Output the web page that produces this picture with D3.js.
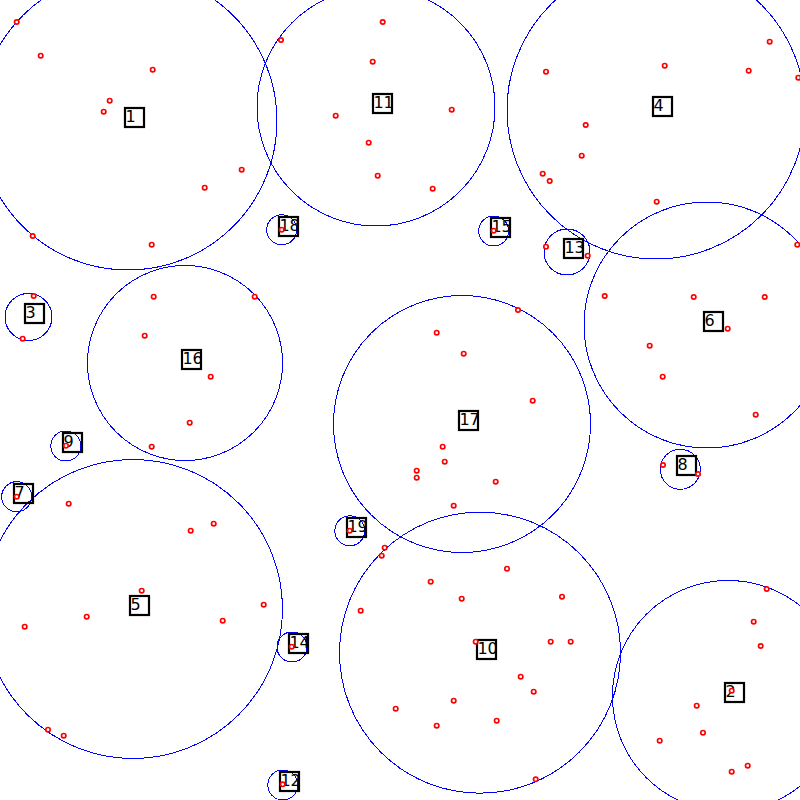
<!DOCTYPE html>
<html>
<head>
<meta charset="utf-8">
<script src="https://cdn.jsdelivr.net/npm/d3@7"></script>
<style>
  html, body { margin: 0; padding: 0; background: #fff; }
  svg { display: block; }
</style>
</head>
<body>
<script>
// Cluster ids, centres and radii (data units)
const clusterIds = [1, 2, 3, 4, 5, 6, 7, 8, 9, 10, 11, 12, 13, 14, 15, 16, 17, 18, 19];
const clusterX = [128, 728, 28.5, 656, 133, 707, 16.7, 680.3, 65.8, 480, 376, 282.8, 567, 292, 493.7, 185, 462, 281.7, 349.8];
const clusterY = [121, 696, 317, 110, 609, 325, 496.7, 469.3, 446, 652.7, 107, 785, 252, 647, 231, 363, 424, 229.8, 530.8];
const clusterR = [149, 115.5, 23.5, 149, 149.5, 123, 15, 20, 15, 140.5, 119, 15, 23, 15, 15, 97.5, 128.5, 15, 15];

// Data points
const pointX = [
  16.7, 40.7, 152.7, 109.7, 103.7, 241.7, 204.7, 32.7, 151.7,
  382.7, 281, 372.7, 335.7, 451.7, 368.7, 377.7, 432.7,
  546, 664.7, 769.7, 748.7, 798.3, 585.7, 581.7, 542.7, 549.7, 656.7,
  546, 587.7,
  797.3, 604.7, 693.7, 764.7, 727.7, 649.7, 662.7, 755.7,
  663, 698,
  33.7, 22.7,
  153.7, 254.7, 144.7, 210.7, 189.7, 151.7,
  66, 16.7,
  68.7, 190.7, 213.7, 141.7, 263.7, 86.7, 24.7, 222.7, 48, 63.7,
  291.7, 282.7,
  518, 436.7, 463.7, 532.7, 442.7, 444.7, 416.7, 416.7, 495.7, 453.7,
  349.7,
  384.7, 381.7, 507, 430.7, 461.7, 562, 360.7, 475.7, 550.7, 570.7, 520.7, 533.7, 453.7, 395.7, 496.7, 436.7, 535.7,
  766.7, 753.7, 760.7, 731.7, 696.7, 703, 659.7, 747.7, 731.7,
  493.7, 281.7
];
const pointY = [
  22, 55.7, 69.7, 100.7, 111.7, 169.7, 187.7, 236, 244.7,
  22, 40, 61.7, 115.7, 109.7, 142.7, 175.7, 188.7,
  71.7, 65.7, 41.7, 70.7, 77.7, 125, 155.7, 173.7, 181, 201.7,
  246.7, 255.7,
  244.7, 296, 297, 297, 328.7, 345.7, 376.7, 414.7,
  465, 474,
  296, 338.7,
  296.7, 296.7, 335.7, 376.7, 422.7, 446.7,
  445.7, 496.7,
  503.7, 530.7, 523.7, 590.7, 604.7, 616.7, 626.7, 620.7, 729.7, 735.7,
  646.7, 784.3,
  310, 332.7, 353.7, 400.7, 446.7, 461.7, 470.7, 477.7, 481.7, 505.7,
  530.7,
  547.7, 555.7, 568.7, 581.7, 598.7, 596.7, 610.7, 641.7, 641.7, 641.7, 676.7, 691.7, 700.7, 708.7, 720.7, 725.7, 779.3,
  589, 621.7, 646, 690.7, 705.7, 732.7, 740.7, 765.7, 771.7,
  230.7, 229.7
];

const W = 800, H = 800;
const x = d3.scaleLinear().domain([0, 800]).range([0, W]);
const y = d3.scaleLinear().domain([0, 800]).range([0, H]);

const clusters = clusterIds.map((id, i) => ({ id, cx: clusterX[i], cy: clusterY[i], r: clusterR[i] }));
const points = pointX.map((px, i) => ({ x: px, y: pointY[i] }));

const svg = d3.select("body").append("svg")
  .attr("width", W).attr("height", H)
  .attr("viewBox", `0 0 ${W} ${H}`);

const defs = svg.append("defs");

// Cluster circles
svg.append("g").selectAll("circle")
  .data(clusters).join("circle")
  .attr("cx", d => x(d.cx))
  .attr("cy", d => y(d.cy))
  .attr("r", d => x(d.r) - x(0))
  .attr("fill", "none")
  .attr("stroke", "#0000ff")
  .attr("stroke-width", 1)
  .attr("shape-rendering", "crispEdges");

// Label boxes with clipped text
const labels = svg.append("g").selectAll("g")
  .data(clusters).join("g")
  .attr("transform", d => `translate(${Math.round(x(d.cx))},${Math.round(y(d.cy))})`);

labels.each(function (d, i) {
  defs.append("clipPath").attr("id", "clip" + i)
    .append("rect").attr("x", -3).attr("y", -13).attr("width", 19).attr("height", 19);
});

labels.append("text")
  .attr("x", -2.6)
  .attr("y", 1.2)
  .attr("clip-path", (d, i) => `url(#clip${i})`)
  .attr("font-family", "DejaVu Sans")
  .attr("font-size", 16)
  .attr("fill", "#000")
  .text(d => d.id);

labels.append("rect")
  .attr("x", -3).attr("y", -13)
  .attr("width", 19).attr("height", 19)
  .attr("fill", "none")
  .attr("stroke", "#000")
  .attr("stroke-width", 2.2);

// Points
svg.append("g").selectAll("circle")
  .data(points).join("circle")
  .attr("cx", d => x(d.x))
  .attr("cy", d => y(d.y))
  .attr("r", 2.2)
  .attr("fill", "#fff")
  .attr("stroke", "#ff0000")
  .attr("stroke-width", 1.7);
</script>
</body>
</html>
